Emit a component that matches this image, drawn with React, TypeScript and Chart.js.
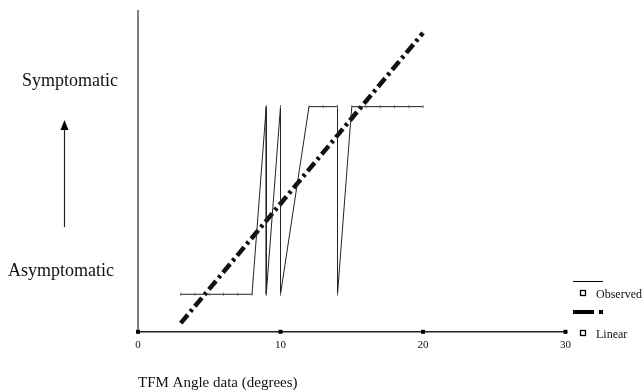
import React, { useEffect, useRef } from "react";
import { Chart, registerables } from "chart.js";

Chart.register(...registerables);

const FONT = "'Liberation Serif', 'Times New Roman', serif";

// Observed TFM angle (degrees) and status (0 = asymptomatic, 1 = symptomatic), in drawing order
const observedAngles = [3, 4, 5, 6, 7, 8, 9, 9, 10, 10, 12, 13, 14, 14, 15, 16, 17, 18, 19, 20];
const observedStatus = [0, 0, 0, 0, 0, 0, 1, 0, 1, 0, 1, 1, 1, 0, 1, 1, 1, 1, 1, 1];

// Linear fit end points
const linearAngles = [3, 20];
const linearValues = [-0.154, 1.393];

const xTicks = [0, 10, 20, 30];
const yLabels = ["Symptomatic", "Asymptomatic"];
const legendLabels = ["Observed", "Linear"];
const xTitle = "TFM Angle data (degrees)";

const overlay = {
  id: "overlay",
  afterDraw(chart: any) {
    const { ctx, chartArea, scales } = chart;
    const x = scales.x;
    ctx.save();
    // y axis line
    ctx.strokeStyle = "#555";
    ctx.lineWidth = 1.5;
    ctx.beginPath();
    ctx.moveTo(chartArea.left, chartArea.top);
    ctx.lineTo(chartArea.left, chartArea.bottom);
    ctx.stroke();
    // x tick squares
    ctx.fillStyle = "#000";
    xTicks.forEach((t) => {
      const px = x.getPixelForValue(t);
      ctx.fillRect(px - 2, chartArea.bottom - 2, 4, 4);
    });
    // left labels
    ctx.fillStyle = "#111";
    ctx.font = `18px ${FONT}`;
    ctx.textBaseline = "middle";
    ctx.textAlign = "left";
    ctx.fillText(yLabels[0], 22, 81);
    ctx.fillText(yLabels[1], 8, 271);
    // arrow
    ctx.strokeStyle = "#222";
    ctx.lineWidth = 1.2;
    ctx.beginPath();
    ctx.moveTo(64.5, 227);
    ctx.lineTo(64.5, 128);
    ctx.stroke();
    ctx.fillStyle = "#000";
    ctx.beginPath();
    ctx.moveTo(64.5, 120);
    ctx.lineTo(60.5, 130);
    ctx.lineTo(68.5, 130);
    ctx.closePath();
    ctx.fill();
    // legend
    ctx.strokeStyle = "#000";
    ctx.lineWidth = 1;
    ctx.beginPath();
    ctx.moveTo(573, 281.5);
    ctx.lineTo(603, 281.5);
    ctx.stroke();
    ctx.lineWidth = 1.3;
    ctx.strokeRect(580.5, 290.5, 5, 5);
    ctx.strokeRect(580.5, 330.5, 5, 5);
    ctx.fillStyle = "#000";
    ctx.fillRect(573, 310, 21, 4);
    ctx.fillRect(599, 310, 4, 4);
    ctx.font = `12px ${FONT}`;
    ctx.fillStyle = "#111";
    ctx.fillText(legendLabels[0], 596, 295);
    ctx.fillText(legendLabels[1], 596, 335);
    ctx.restore();
  },
};

export default function App() {
  const ref = useRef<HTMLCanvasElement>(null);
  useEffect(() => {
    if (!ref.current) return;
    const chart = new Chart(ref.current, {
      type: "scatter",
      data: {
        datasets: [
          {
            label: "Observed",
            data: observedAngles.map((a, i) => ({ x: a, y: observedStatus[i] })),
            showLine: true,
            borderColor: "#222",
            borderWidth: 1,
            pointStyle: "line",
            rotation: 90,
            pointRadius: 1.5,
            pointBorderWidth: 1,
            pointBorderColor: "#666",
            pointBackgroundColor: "#666",
          },
          {
            label: "Linear",
            data: linearAngles.map((a, i) => ({ x: a, y: linearValues[i] })),
            showLine: true,
            borderColor: "#111",
            borderWidth: 4.5,
            borderDash: [11, 4, 3, 4],
            pointRadius: 0,
          },
        ],
      },
      options: {
        responsive: false,
        animation: false,
        layout: { padding: { left: 138, right: 78.5, top: 10, bottom: 0 } },
        plugins: { legend: { display: false }, tooltip: { enabled: false } },
        scales: {
          x: {
            type: "linear",
            min: 0,
            max: 30,
            grid: { display: false, drawTicks: false },
            border: { display: true, color: "#222", width: 1.5 },
            ticks: {
              stepSize: 10,
              padding: 7,
              color: "#111",
              font: { family: FONT, size: 11 },
              maxRotation: 0,
            },
            title: {
              display: true,
              text: xTitle,
              align: "start",
              color: "#111",
              font: { family: FONT, size: 15, lineHeight: 0.933 },
              padding: { top: 17, bottom: 0 },
            },
          },
          y: {
            type: "linear",
            min: -0.2,
            max: 1.515,
            display: false,
          },
        },
      },
      plugins: [overlay],
    });
    return () => chart.destroy();
  }, []);
  return (
    <div style={{ position: "absolute", left: 0, top: 0, width: 644, height: 390, background: "#fff" }}>
      <canvas ref={ref} width={644} height={390} />
    </div>
  );
}
